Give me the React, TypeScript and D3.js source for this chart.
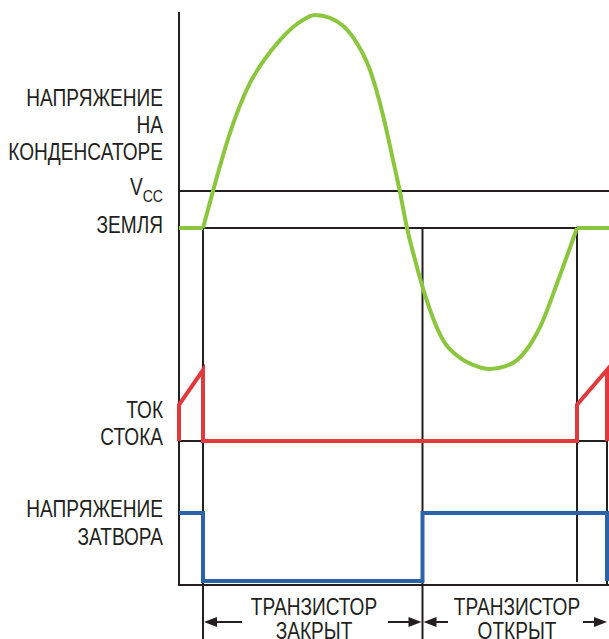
import React from "react";
import * as d3 from "d3";

// ---- data (time units along x, normalized levels along y) ----
const capT = [24, 34, 51, 71, 86, 101, 121, 136, 151, 174, 191, 204, 214, 221, 228, 236, 246, 264, 281, 294, 311, 326, 338, 354, 361, 380, 398];
const capV = [0, 1.0, 2.57, 3.92, 4.57, 5.08, 5.57, 5.76, 5.68, 5.16, 4.27, 3.05, 1.84, 0.97, 0, -0.86, -1.81, -3.03, -3.51, -3.7, -3.81, -3.74, -3.57, -3.03, -2.68, -1.35, 0];
const capFlatLeftT = [0, 24];
const capFlatRightT = [398, 430];

const currentT = [0, 0, 24, 24, 398, 398, 428, 428];
const currentI = [0, 0.51, 1, 0, 0, 0.51, 1, 0];

const gateT = [0, 24, 24, 243.5, 243.5, 428, 428];
const gateV = [1, 1, 0, 0, 1, 1, 0];

const switchOff = 24;
const switchOn = 243.5;
const nextOff = 398;
const periodEnd = 428;

const capLabelLines = ["НАПРЯЖЕНИЕ", "НА", "КОНДЕНСАТОРЕ"];
const vccLabel = "V";
const vccSub = "CC";
const groundLabel = "ЗЕМЛЯ";
const currentLabelLines = ["ТОК", "СТОКА"];
const gateLabelLines = ["НАПРЯЖЕНИЕ", "ЗАТВОРА"];
const offLabelLines = ["ТРАНЗИСТОР", "ЗАКРЫТ"];
const onLabelLines = ["ТРАНЗИСТОР", "ОТКРЫТ"];

const GREEN = "#8cc63f";
const RED = "#e13a3d";
const BLUE = "#2c62aa";
const INK = "#231f20";
const FONT = "'Liberation Sans', Arial, sans-serif";
const SX = 0.83;

export default function App() {
  const W = 609, H = 639;
  const x = d3.scaleLinear().domain([0, 430]).range([179, 609]);
  const yCap = d3.scaleLinear().domain([0, 1]).range([228, 191]);
  const yI = d3.scaleLinear().domain([0, 1]).range([441, 370]);
  const yG = d3.scaleLinear().domain([0, 1]).range([581, 513]);

  const capCurve = d3
    .line<number>()
    .x((_, i) => x(capT[i]))
    .y((d) => yCap(d))
    .curve(d3.curveMonotoneX)(capV);
  const flat = (ts: number[]) =>
    d3.line<number>().x((t) => x(t)).y(() => yCap(0))(ts);
  const currentPath = d3
    .line<number>()
    .x((_, i) => x(currentT[i]))
    .y((d) => yI(d))(currentI);
  const gatePath = d3
    .line<number>()
    .x((_, i) => x(gateT[i]))
    .y((d) => yG(d))(gateV);

  const axisX = x(0);
  const axisTop = 12;
  const gateBase = yG(0) + 4;
  const arrowY = 622;
  const labelX = 163;

  const arrow = (x1: number, x2: number, key: string) => {
    const dir = x2 > x1 ? 1 : -1;
    const hl = 13, hw = 5;
    return (
      <g key={key}>
        <line x1={x1} y1={arrowY} x2={x2 - dir * hl + dir * 1} y2={arrowY} stroke={INK} strokeWidth={2} />
        <path d={`M${x2},${arrowY} L${x2 - dir * hl},${arrowY - hw} L${x2 - dir * hl},${arrowY + hw} Z`} fill={INK} />
      </g>
    );
  };

  const txt = (s: React.ReactNode, tx: number, ty: number, anchor: string, key: string) => (
    <text key={key} transform={`translate(${tx},${ty}) scale(${SX},1)`} textAnchor={anchor}
      fontFamily={FONT} fontSize={23} fill={INK}>
      {s}
    </text>
  );

  const offCenter = 314;
  const onCenter = 517;

  return (
    <svg width={W} height={H} style={{ position: "absolute", left: 0, top: 0, background: "#fff" }}>
      <rect width={W} height={H} fill="#fff" />
      <g stroke={INK} strokeWidth={2} fill="none">
        <line x1={axisX} y1={axisTop} x2={axisX} y2={gateBase + 1} />
        <line x1={axisX} y1={yCap(1)} x2={W} y2={yCap(1)} />
        <line x1={x(switchOff)} y1={yCap(0)} x2={x(nextOff)} y2={yCap(0)} />
        <line x1={axisX} y1={yI(0)} x2={x(periodEnd)} y2={yI(0)} />
        <line x1={axisX} y1={gateBase} x2={W} y2={gateBase} />
        <line x1={x(switchOff)} y1={yCap(0)} x2={x(switchOff)} y2={H} />
        <line x1={x(switchOn)} y1={yCap(0)} x2={x(switchOn)} y2={H} />
        <line x1={x(nextOff)} y1={yCap(0)} x2={x(nextOff)} y2={gateBase - 3} />
        <line x1={x(periodEnd)} y1={yI(0)} x2={x(periodEnd)} y2={gateBase} />
      </g>

      <g stroke={GREEN} strokeWidth={4} fill="none" strokeLinejoin="round">
        <path d={flat(capFlatLeftT) ?? ""} />
        <path d={capCurve ?? ""} />
        <path d={flat(capFlatRightT) ?? ""} />
      </g>
      <path d={currentPath ?? ""} stroke={RED} strokeWidth={4} fill="none" strokeLinejoin="miter" />
      <path d={gatePath ?? ""} stroke={BLUE} strokeWidth={4} fill="none" strokeLinejoin="miter" />

      {capLabelLines.map((t, i) => txt(t, labelX, 106 + i * 27, "end", "c" + i))}
      {txt(
        <>
          <tspan>{vccLabel}</tspan>
          <tspan fontSize={17} dy={7}>{vccSub}</tspan>
        </>,
        labelX, 195, "end", "vcc"
      )}
      {txt(groundLabel, labelX, 233, "end", "gnd")}
      {currentLabelLines.map((t, i) => txt(t, labelX, 418 + i * 27, "end", "i" + i))}
      {gateLabelLines.map((t, i) => txt(t, labelX, 517 + i * 28, "end", "g" + i))}

      {offLabelLines.map((t, i) => txt(t, offCenter, 615 + i * 24, "middle", "off" + i))}
      {onLabelLines.map((t, i) => txt(t, onCenter, 615 + i * 24, "middle", "on" + i))}

      {arrow(242, x(switchOff) + 1, "a1")}
      {arrow(388, x(switchOn) - 1, "a2")}
      {arrow(448, x(switchOn) + 1, "a3")}
      {arrow(583, x(periodEnd), "a4")}
    </svg>
  );
}
